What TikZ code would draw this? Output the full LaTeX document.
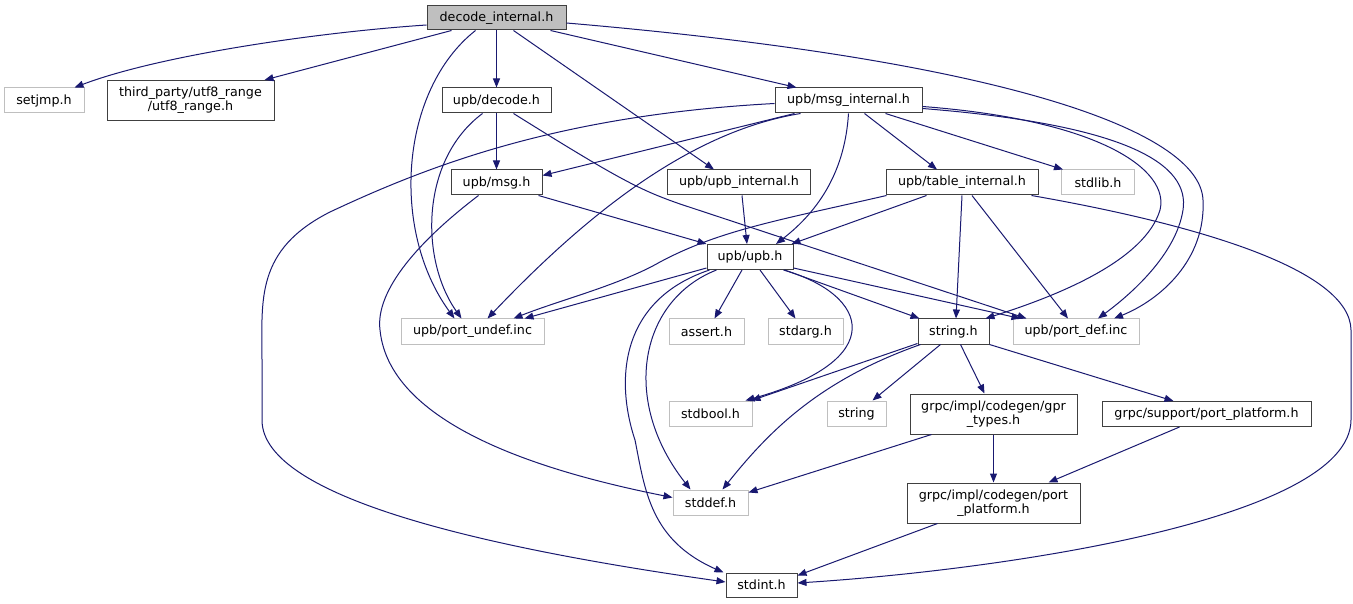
\documentclass[tikz,border=0pt]{standalone}
\usepackage{fontspec}
\setmainfont{DejaVu Sans}
\usetikzlibrary{arrows.meta,calc}
\definecolor{edgeblue}{HTML}{191970}
\definecolor{boxline}{HTML}{404040}
\definecolor{greyline}{HTML}{BFBFBF}
\definecolor{mainfill}{HTML}{BFBFBF}
\tikzset{
  hbox/.style={draw=boxline, line width=1pt, fill=white, inner sep=0pt, minimum height=25pt, font=\fontsize{12.7}{14}\selectfont, align=center},
  gbox/.style={hbox, draw=greyline},
  mbox/.style={hbox, fill=mainfill},
  conn/.style={draw=edgeblue, line width=1pt, -{Triangle[length=9pt,width=7pt]}}
}
\begin{document}
\begin{tikzpicture}[x=1pt,y=-1pt]
\useasboundingbox (0,0) rectangle (1353,604);
\fill[white] (0,0) rectangle (1353,604);
% nodes
\node[mbox, minimum width=139pt, minimum height=24pt] (di) at (496.5,18) {decode\_internal.h};
\node[gbox, minimum width=80pt] (sj) at (44,100.5) {setjmp.h};
\node[hbox, minimum width=167pt, minimum height=40pt] (tp) at (190.5,100.5) {third\_party/utf8\_range\\/utf8\_range.h};
\node[hbox, minimum width=109pt] (dc) at (496.5,100.5) {upb/decode.h};
\node[hbox, minimum width=147pt] (mi) at (848.5,100.5) {upb/msg\_internal.h};
\node[hbox, minimum width=91pt] (mg) at (496.5,182.5) {upb/msg.h};
\node[hbox, minimum width=143pt] (ui) at (739,182.5) {upb/upb\_internal.h};
\node[hbox, minimum width=152pt] (ti) at (962,182.5) {upb/table\_internal.h};
\node[gbox, minimum width=73pt] (sl) at (1098,182.5) {stdlib.h};
\node[hbox, minimum width=86pt] (uh) at (750,257) {upb/upb.h};
\node[gbox, minimum width=143pt] (pu) at (472.5,331.5) {upb/port\_undef.inc};
\node[gbox, minimum width=75pt] (ah) at (706.5,331.5) {assert.h};
\node[gbox, minimum width=75pt] (sa) at (805.5,331.5) {stdarg.h};
\node[hbox, minimum width=71pt] (sh) at (953.5,331.5) {string.h};
\node[gbox, minimum width=126pt] (pd) at (1076,331.5) {upb/port\_def.inc};
\node[gbox, minimum width=83pt] (sb) at (710.5,413.5) {stdbool.h};
\node[gbox, minimum width=59pt] (sg) at (856.5,413.5) {string};
\node[hbox, minimum width=167pt, minimum height=40pt] (gt) at (993.5,414) {grpc/impl/codegen/gpr\\\_types.h};
\node[hbox, minimum width=209pt] (sp) at (1206.5,414) {grpc/support/port\_platform.h};
\node[gbox, minimum width=75pt] (sd) at (710.5,502.5) {stddef.h};
\node[hbox, minimum width=173pt, minimum height=40pt] (pp) at (993.5,503) {grpc/impl/codegen/port\\\_platform.h};
\node[hbox, minimum width=71pt, minimum height=24pt] (si) at (761.5,585) {stdint.h};
% decode_internal.h
\draw[conn] ($(di.west)+(0,7)$) .. controls (320,32) and (160,55) .. ($(sj.north east)+(-10,0)$);
\draw[conn] ($(di.south west)+(25,0)$) -- ($(tp.north east)+(-10,0)$);
\draw[conn] ($(di.south)+(-21,0)$) .. controls (400,90) and (390,230) .. ($(pu.north)+(-18,0)$);
\draw[conn] (di.south) -- (dc.north);
\draw[conn] ($(di.south)+(17,0)$) -- ($(ui.north)+(-25,0)$);
\draw[conn] ($(di.south east)+(-16,0)$) -- ($(mi.north west)+(22,0)$);
\draw[conn] ($(di.east)+(0,5)$) .. controls (1000,60) and (1200,130) .. (1203,200) .. controls (1206,260) and (1160,300) .. ($(pd.north)+(38,0)$);
% decode.h
\draw[conn] (dc.south) -- (mg.north);
\draw[conn] ($(dc.south)+(-14,0)$) .. controls (420,160) and (420,260) .. ($(pu.north)+(-11,0)$);
\draw[conn] ($(dc.south)+(17,0)$) .. controls (620,180) and (640,190) .. (680,204) -- ($(pd.north west)+(14,0)$);
% msg_internal.h
\draw[conn] ($(mi.south west)+(20,0)$) -- ($(mg.north east)+(0,6)$);
\draw[conn] ($(mi.south west)+(26,0)$) .. controls (700,130) and (600,200) .. ($(pu.north)+(15,0)$);
\draw[conn] (mi.south) .. controls (845,170) and (820,210) .. ($(uh.north)+(26,0)$);
\draw[conn] ($(mi.south)+(16,0)$) -- ($(ti.north)+(-25,0)$);
\draw[conn] ($(mi.south east)+(-37,0)$) -- ($(sl.north west)+(2,0)$);
\draw[conn] ($(mi.east)+(0,6)$) .. controls (1100,120) and (1170,170) .. (1160,210) .. controls (1145,260) and (1060,295) .. ($(sh.north east)+(-4,0)$);
\draw[conn] ($(mi.east)+(0,8)$) .. controls (1130,125) and (1190,165) .. (1183,210) .. controls (1176,255) and (1130,295) .. ($(pd.north)+(22,0)$);
\draw[conn] ($(mi.west)+(0,3)$) .. controls (560,115) and (430,165) .. (330,212) .. controls (255,250) and (262,300) .. (262,360) -- (262,420) .. controls (262,500) and (500,550) .. ($(si.west)+(0,-3)$);
% msg.h
\draw[conn] ($(mg.south east)+(-4,0)$) -- (uh.north west);
\draw[conn] ($(mg.south)+(-18,0)$) .. controls (420,240) and (375,290) .. (380,330) .. controls (390,430) and (560,475) .. ($(sd.west)+(0,-5)$);
% upb_internal.h
\draw[conn] ($(ui.south)+(3,0)$) -- ($(uh.north)+(-3,0)$);
% table_internal.h
\draw[conn] ($(ti.south west)+(41,0)$) -- ($(uh.north east)+(-2,0)$);
\draw[conn] ($(ti.south west)+(1,0)$) .. controls (780,220) and (720,230) .. (660,262) .. controls (620,285) and (560,300) .. ($(pu.north)+(41,0)$);
\draw[conn] (ti.south) -- ($(sh.north)+(2.5,0)$);
\draw[conn] ($(ti.south)+(10,0)$) -- ($(pd.north)+(-8,0)$);
\draw[conn] ($(ti.south east)+(-7,0)$) .. controls (1200,225) and (1350,270) .. (1351,330) -- (1351,420) .. controls (1350,520) and (1000,570) .. ($(si.east)+(0,-2)$);
% upb.h
\draw[conn] ($(uh.south west)+(0,-2)$) -- ($(pu.north)+(52,0)$);
\draw[conn] ($(uh.south)+(-8,0)$) -- ($(ah.north)+(8,0)$);
\draw[conn] ($(uh.south)+(10,0)$) -- ($(sa.north)+(-10,0)$);
\draw[conn] ($(uh.south east)+(-9,0)$) -- ($(sh.north west)+(2,0)$);
\draw[conn] ($(uh.south east)+(0,-2)$) -- ($(pd.north west)+(8,0)$);
\draw[conn] ($(uh.south east)+(-10,0)$) .. controls (870,295) and (890,360) .. ($(sb.north east)+(-7,0)$);
\draw[conn] ($(uh.south west)+(10,0)$) .. controls (640,300) and (620,400) .. ($(sd.north)+(-20,0)$);
\draw[conn] ($(uh.south west)+(3,0)$) .. controls (620,300) and (615,380) .. (635,440) .. controls (645,490) and (650,540) .. ($(si.north west)+(-2,0)$);
% string.h
\draw[conn] ($(sh.south west)+(0,-1)$) -- ($(sb.north east)+(-1,0)$);
\draw[conn] ($(sh.south west)+(3,0)$) .. controls (820,380) and (770,430) .. ($(sd.north)+(12,0)$);
\draw[conn] ($(sh.south)+(-13,0)$) -- ($(sg.north east)+(-14,0)$);
\draw[conn] ($(sh.south)+(7,0)$) -- ($(gt.north)+(-9,0)$);
\draw[conn] (sh.south east) -- ($(sp.north)+(-33,0)$);
% grpc
\draw[conn] (gt.south) -- (pp.north);
\draw[conn] ($(gt.south west)+(22,0)$) -- ($(sd.east)+(0,-10)$);
\draw[conn] ($(sp.south)+(-27,0)$) -- ($(pp.north)+(55,0)$);
\draw[conn] ($(pp.south west)+(31,0)$) -- ($(si.north east)+(0,3)$);
\end{tikzpicture}
\end{document}
